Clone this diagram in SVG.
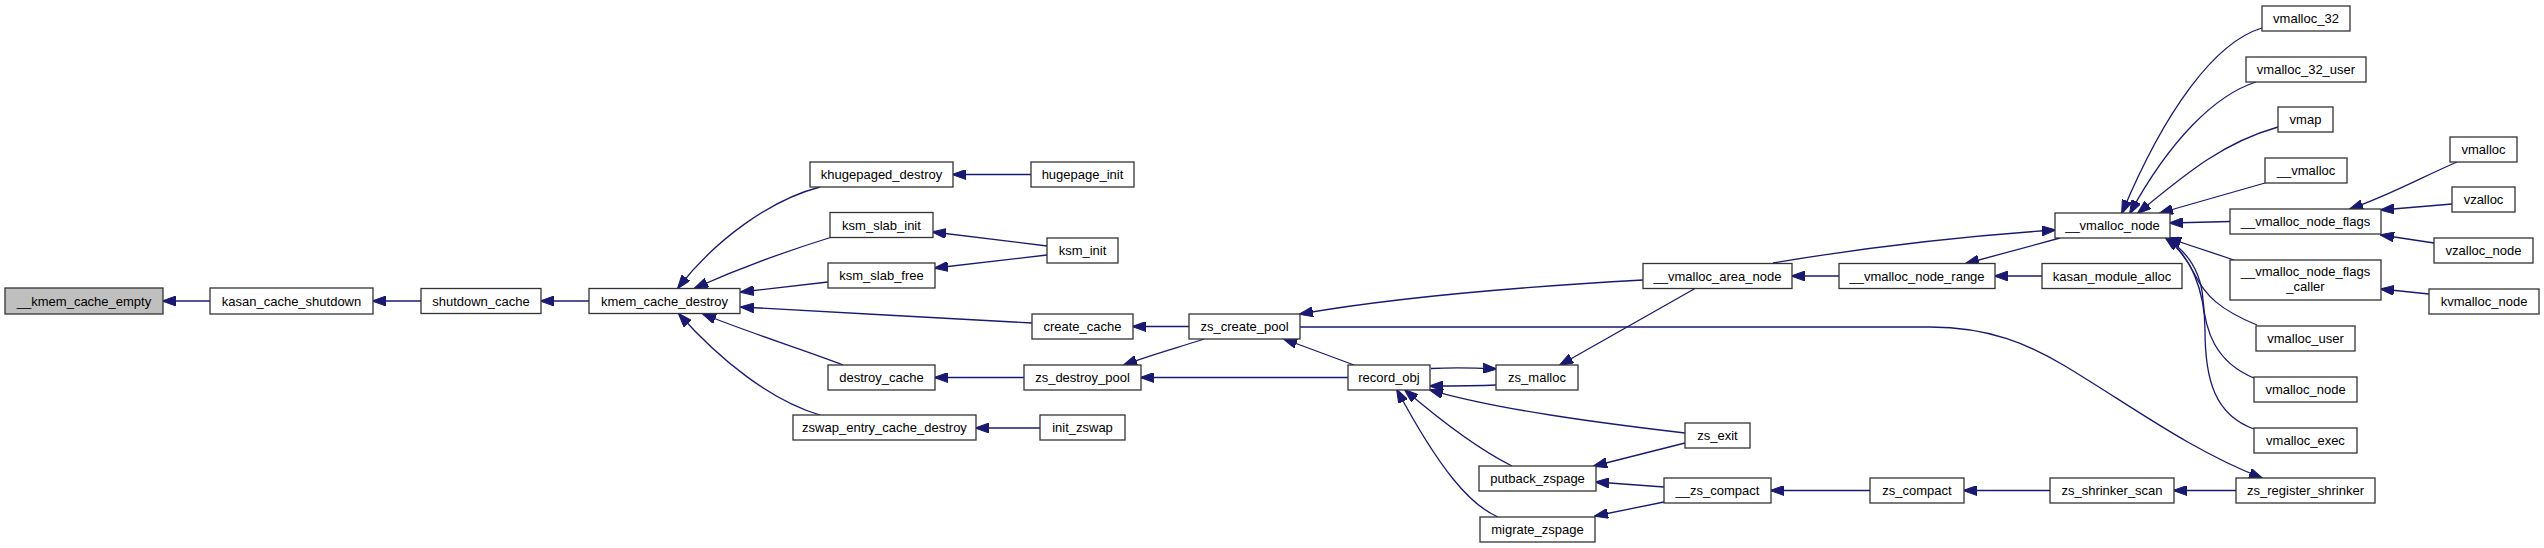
<svg xmlns="http://www.w3.org/2000/svg" width="2544" height="548" viewBox="0 0 2544 548">
<style>
.n rect{fill:#ffffff;stroke:#333333;stroke-width:1.3}
.n.root rect{fill:#bfbfbf}
.n text{font-family:"Liberation Sans",Arial,sans-serif;font-size:13px;fill:#000;text-anchor:middle}
.e path{fill:none;stroke:#191970;stroke-width:1.3;marker-end:url(#ah)}
</style>
<defs>
<marker id="ah" viewBox="0 0 14 10" refX="13" refY="5" markerWidth="14" markerHeight="10" markerUnits="userSpaceOnUse" orient="auto">
<path d="M0,0 L14,5 L0,10 z" fill="#191970" stroke="#191970" stroke-width="1"/>
</marker>
</defs>
<rect width="2544" height="548" fill="#ffffff"/>
<g id="connectors" class="e">
<path d="M210,301 L163,301"/>
<path d="M421,301 L373,301"/>
<path d="M589,301 L541,301"/>
<path d="M820,187 C770,200 715,240 678,288"/>
<path d="M832,237 C790,250 740,268 695,288"/>
<path d="M828,282 L741,292"/>
<path d="M1032,323 C950,318 820,312 741,307"/>
<path d="M843,365 C810,352 750,333 703,314"/>
<path d="M820,415 C770,400 720,360 679,314"/>
<path d="M1031,174.5 L953,174.5"/>
<path d="M1047,246 L933,232"/>
<path d="M1047,255 L935,268"/>
<path d="M1189,326.5 L1133,326.5"/>
<path d="M1204,339 C1180,347 1150,355 1124,365"/>
<path d="M1348,377.5 L1141,377.5"/>
<path d="M1024,377.5 L935,377.5"/>
<path d="M1040,428 L976,428"/>
<path d="M1354,365 L1284,339"/>
<path d="M1643,280 C1500,288 1380,300 1300,314"/>
<path d="M1695,288.5 L1560,365"/>
<path d="M1300,327 L1930,327 C1990,327 2030,345 2065,366 C2130,405 2190,450 2262,478"/>
<path d="M1431,368.5 C1450,367.5 1470,367.5 1496,369"/>
<path d="M1496,385 C1475,386 1455,386 1430,386"/>
<path d="M1512,466 C1480,450 1440,420 1405,390"/>
<path d="M1498,517 C1470,505 1440,470 1397,390"/>
<path d="M1685,433 C1600,423 1500,410 1430,390"/>
<path d="M1685,443 L1594,466"/>
<path d="M1664,487 L1596,482"/>
<path d="M1664,502 L1595,516"/>
<path d="M1870,490.5 L1771,490.5"/>
<path d="M2050,490.5 L1964,490.5"/>
<path d="M2236,490.5 L2174,490.5"/>
<path d="M1839,276 L1792,276"/>
<path d="M2042,276 L1995,276"/>
<path d="M1773,263 C1850,250 1950,237 2055,230"/>
<path d="M2060,238 L1966,263.5"/>
<path d="M2262,28 C2215,42 2165,110 2122,213"/>
<path d="M2256,82 C2215,95 2170,140 2130,213"/>
<path d="M2278,127 C2225,142 2190,170 2138,213"/>
<path d="M2265,183 L2160,213"/>
<path d="M2230,221.5 L2170,223"/>
<path d="M2234,260 L2168,238"/>
<path d="M2257,325 C2220,310 2205,295 2195,275 C2185,255 2175,245 2166,238"/>
<path d="M2254,378 C2215,362 2205,330 2203,300 C2201,270 2185,250 2166,238"/>
<path d="M2254,429 C2215,415 2205,380 2205,330 C2205,290 2190,255 2166,238"/>
<path d="M2457,162 C2420,178 2390,195 2350,209"/>
<path d="M2452,204 L2381,210"/>
<path d="M2434,243 L2381,235"/>
<path d="M2429,294 L2381,289"/>
</g>
<g id="kmem_cache_empty" class="n root"><rect x="5" y="288" width="158" height="26"/><text x="84" y="305.5">__kmem_cache_empty</text></g>
<g id="kasan_cache_shutdown" class="n"><rect x="210" y="288" width="163" height="26"/><text x="291.5" y="305.5">kasan_cache_shutdown</text></g>
<g id="shutdown_cache" class="n"><rect x="421" y="288.5" width="120" height="25"/><text x="481" y="305.5">shutdown_cache</text></g>
<g id="kmem_cache_destroy" class="n"><rect x="589" y="288.5" width="151" height="25"/><text x="664.5" y="305.5">kmem_cache_destroy</text></g>
<g id="khugepaged_destroy" class="n"><rect x="810" y="162" width="143" height="25"/><text x="881.5" y="179">khugepaged_destroy</text></g>
<g id="hugepage_init" class="n"><rect x="1031" y="162" width="103" height="25"/><text x="1082.5" y="179">hugepage_init</text></g>
<g id="ksm_slab_init" class="n"><rect x="830" y="212.5" width="103" height="25"/><text x="881.5" y="229.5">ksm_slab_init</text></g>
<g id="ksm_init" class="n"><rect x="1047" y="238" width="71" height="25"/><text x="1082.5" y="255">ksm_init</text></g>
<g id="ksm_slab_free" class="n"><rect x="828" y="263" width="107" height="25"/><text x="881.5" y="280">ksm_slab_free</text></g>
<g id="create_cache" class="n"><rect x="1032" y="314" width="101" height="25"/><text x="1082.5" y="331">create_cache</text></g>
<g id="zs_create_pool" class="n"><rect x="1189" y="314" width="111" height="25"/><text x="1244.5" y="331">zs_create_pool</text></g>
<g id="destroy_cache" class="n"><rect x="828" y="365" width="107" height="25"/><text x="881.5" y="382">destroy_cache</text></g>
<g id="zs_destroy_pool" class="n"><rect x="1024" y="365" width="117" height="25"/><text x="1082.5" y="382">zs_destroy_pool</text></g>
<g id="zswap_entry_cache_destroy" class="n"><rect x="793" y="415" width="183" height="25"/><text x="884.5" y="432">zswap_entry_cache_destroy</text></g>
<g id="init_zswap" class="n"><rect x="1040" y="415" width="85" height="25"/><text x="1082.5" y="432">init_zswap</text></g>
<g id="record_obj" class="n"><rect x="1348" y="365" width="82" height="25"/><text x="1389" y="382">record_obj</text></g>
<g id="zs_malloc" class="n"><rect x="1496" y="365" width="82" height="25"/><text x="1537" y="382">zs_malloc</text></g>
<g id="putback_zspage" class="n"><rect x="1479" y="466" width="117" height="25"/><text x="1537.5" y="483">putback_zspage</text></g>
<g id="migrate_zspage" class="n"><rect x="1480" y="517" width="115" height="25"/><text x="1537.5" y="534">migrate_zspage</text></g>
<g id="vmalloc_area_node" class="n"><rect x="1643" y="263.5" width="149" height="25"/><text x="1717.5" y="280.5">__vmalloc_area_node</text></g>
<g id="vmalloc_node_range" class="n"><rect x="1839" y="263.5" width="156" height="25"/><text x="1917" y="280.5">__vmalloc_node_range</text></g>
<g id="kasan_module_alloc" class="n"><rect x="2042" y="263.5" width="140" height="25"/><text x="2112" y="280.5">kasan_module_alloc</text></g>
<g id="vmalloc_node_internal" class="n"><rect x="2055" y="213" width="115" height="25"/><text x="2112.5" y="230">__vmalloc_node</text></g>
<g id="zs_exit" class="n"><rect x="1685" y="423" width="65" height="25"/><text x="1717.5" y="440">zs_exit</text></g>
<g id="zs_compact_internal" class="n"><rect x="1664" y="478" width="107" height="25"/><text x="1717.5" y="495">__zs_compact</text></g>
<g id="zs_compact" class="n"><rect x="1870" y="478" width="94" height="25"/><text x="1917" y="495">zs_compact</text></g>
<g id="zs_shrinker_scan" class="n"><rect x="2050" y="478" width="124" height="25"/><text x="2112" y="495">zs_shrinker_scan</text></g>
<g id="zs_register_shrinker" class="n"><rect x="2236" y="478" width="139" height="25"/><text x="2305.5" y="495">zs_register_shrinker</text></g>
<g id="vmalloc_32" class="n"><rect x="2262" y="6" width="88" height="25"/><text x="2306" y="23">vmalloc_32</text></g>
<g id="vmalloc_32_user" class="n"><rect x="2246" y="57" width="120" height="25"/><text x="2306" y="74">vmalloc_32_user</text></g>
<g id="vmap" class="n"><rect x="2278" y="107" width="55" height="25"/><text x="2305.5" y="124">vmap</text></g>
<g id="vmalloc_internal" class="n"><rect x="2265" y="158" width="82" height="25"/><text x="2306" y="175">__vmalloc</text></g>
<g id="vmalloc_node_flags" class="n"><rect x="2230" y="209" width="151" height="25"/><text x="2305.5" y="226">__vmalloc_node_flags</text></g>
<g id="vmalloc_node_flags_caller" class="n"><rect x="2230" y="260" width="151" height="40"/><text x="2305.5" y="276">__vmalloc_node_flags</text><text x="2305.5" y="291">_caller</text></g>
<g id="vmalloc_user" class="n"><rect x="2256" y="326" width="99" height="25"/><text x="2305.5" y="343">vmalloc_user</text></g>
<g id="vmalloc_node" class="n"><rect x="2254" y="377" width="103" height="25"/><text x="2305.5" y="394">vmalloc_node</text></g>
<g id="vmalloc_exec" class="n"><rect x="2254" y="428" width="103" height="25"/><text x="2305.5" y="445">vmalloc_exec</text></g>
<g id="vmalloc" class="n"><rect x="2450" y="137" width="67" height="25"/><text x="2483.5" y="154">vmalloc</text></g>
<g id="vzalloc" class="n"><rect x="2452" y="187" width="63" height="25"/><text x="2483.5" y="204">vzalloc</text></g>
<g id="vzalloc_node" class="n"><rect x="2434" y="238" width="99" height="25"/><text x="2483.5" y="255">vzalloc_node</text></g>
<g id="kvmalloc_node" class="n"><rect x="2429" y="289" width="110" height="25"/><text x="2484" y="306">kvmalloc_node</text></g>
</svg>
